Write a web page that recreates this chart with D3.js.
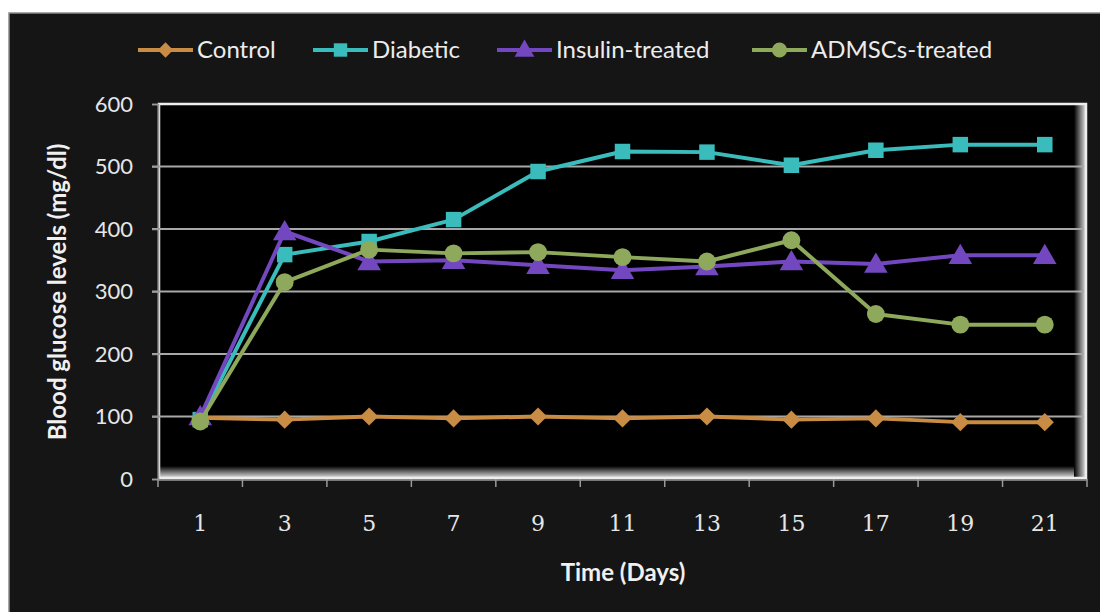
<!DOCTYPE html>
<html>
<head>
<meta charset="utf-8">
<script src="https://cdn.jsdelivr.net/npm/d3@7"></script>
<style>
  html, body { margin: 0; padding: 0; background: #ffffff; }
  svg { display: block; }
</style>
</head>
<body>
<svg id="chart" width="1100" height="612"></svg>
<script>
// Blood glucose over 21 days for four groups
const days = ["1", "3", "5", "7", "9", "11", "13", "15", "17", "19", "21"];
const control   = [98, 95, 100, 97, 100, 97, 100, 95, 97, 91, 91];
const diabetic  = [95, 359, 380, 415, 492, 524, 523, 502, 526, 535, 535];
const insulin   = [100, 396, 348, 350, 342, 334, 340, 348, 344, 358, 358];
const admscs    = [92, 315, 367, 361, 363, 355, 348, 382, 264, 247, 247];
const yTicks = [0, 100, 200, 300, 400, 500, 600];

const series = [
  { name: "Control",          values: control,  color: "#c98c44", shape: "diamond" },
  { name: "Diabetic",         values: diabetic, color: "#3bbcbc", shape: "square" },
  { name: "Insulin-treated",  values: insulin,  color: "#7347bf", shape: "triangle" },
  { name: "ADMSCs-treated",   values: admscs,   color: "#8ea95b", shape: "circle" }
];

const svg = d3.select("#chart");
const sans = "Lato, 'Open Sans', sans-serif";

// dark panel
svg.append("rect").attr("x", 9).attr("y", 13).attr("width", 1100).attr("height", 620)
  .attr("fill", "#151515").attr("stroke", "#8a8a8a").attr("stroke-width", 1.5);

const plot = { left: 158, right: 1087, top: 104, bottom: 479 };

const x = d3.scaleBand().domain(days).range([plot.left, plot.right]).padding(0);
const y = d3.scaleLinear().domain([0, 600]).range([plot.bottom, plot.top]);

// plot background with bevelled frame
const defs = svg.append("defs");
const gB = defs.append("linearGradient").attr("id", "bevB").attr("x1", 0).attr("y1", 0).attr("x2", 0).attr("y2", 1);
gB.append("stop").attr("offset", 0).attr("stop-color", "#000");
gB.append("stop").attr("offset", 1).attr("stop-color", "#d0d0d0");
const gR = defs.append("linearGradient").attr("id", "bevR").attr("x1", 0).attr("y1", 0).attr("x2", 1).attr("y2", 0);
gR.append("stop").attr("offset", 0).attr("stop-color", "#000");
gR.append("stop").attr("offset", 1).attr("stop-color", "#d0d0d0");

svg.append("rect").attr("x", plot.left).attr("y", plot.top)
  .attr("width", plot.right - plot.left).attr("height", plot.bottom - plot.top)
  .attr("fill", "#000");
svg.append("rect").attr("x", plot.left).attr("y", plot.bottom - 13)
  .attr("width", plot.right - plot.left).attr("height", 11).attr("fill", "url(#bevB)");
svg.append("rect").attr("x", plot.right - 13).attr("y", plot.top)
  .attr("width", 11).attr("height", plot.bottom - plot.top - 2).attr("fill", "url(#bevR)");
svg.append("rect").attr("x", plot.left + 1).attr("y", plot.top)
  .attr("width", plot.right - plot.left - 2).attr("height", plot.bottom - plot.top - 1)
  .attr("fill", "none").attr("stroke", "#ededed").attr("stroke-width", 2.5);

// gridlines
svg.append("g").selectAll("line").data(yTicks.filter(d => d > 0 && d < 600)).join("line")
  .attr("x1", plot.left - 6).attr("x2", plot.right - 3)
  .attr("y1", d => y(d)).attr("y2", d => y(d))
  .attr("stroke", "#a8a8a8").attr("stroke-width", 2);

// y axis
const yAxis = svg.append("g").attr("transform", `translate(${plot.left},0)`)
  .call(d3.axisLeft(y).tickValues(yTicks).tickSize(6).tickPadding(19));
yAxis.select(".domain").attr("stroke", "#9a9a9a").attr("stroke-width", 1.5);
yAxis.selectAll(".tick line").attr("stroke", "#9a9a9a").attr("stroke-width", 1.5);
yAxis.selectAll(".tick text").attr("fill", "#e6e6e6")
  .style("font-family", sans).style("font-size", "22px");

// x axis: ticks at category boundaries, labels at centres
const boundaries = days.map(d => x(d)).concat([plot.right]);
svg.append("g").selectAll("line").data(boundaries).join("line")
  .attr("x1", d => d).attr("x2", d => d).attr("y1", plot.bottom).attr("y2", plot.bottom + 8)
  .attr("stroke", "#9a9a9a").attr("stroke-width", 1.5);
svg.append("line").attr("x1", plot.left).attr("x2", plot.right)
  .attr("y1", plot.bottom + 1).attr("y2", plot.bottom + 1).attr("stroke", "#9a9a9a").attr("stroke-width", 1.5);
svg.append("g").selectAll("text").data(days).join("text")
  .attr("x", d => x(d) + x.bandwidth() / 2).attr("y", 531)
  .attr("text-anchor", "middle").attr("fill", "#e6e6e6")
  .style("font-family", "'DejaVu Serif', 'Liberation Serif', serif").style("font-size", "22px")
  .text(d => d);

// axis titles
svg.append("text").attr("x", 623).attr("y", 581).attr("text-anchor", "middle")
  .attr("fill", "#f0f0f0").style("font-family", sans).style("font-weight", "bold").style("font-size", "24px")
  .text("Time (Days)");
svg.append("text").attr("transform", "translate(66,292) rotate(-90)").attr("text-anchor", "middle")
  .attr("fill", "#f0f0f0").style("font-family", sans).style("font-weight", "bold").style("font-size", "24px")
  .text("Blood glucose levels (mg/dl)");

// marker shapes
const symbolFor = {
  diamond: d3.symbol().type(d3.symbolDiamond2).size(210),
  square: d3.symbol().type(d3.symbolSquare).size(240),
  triangle: d3.symbol().type(d3.symbolTriangle).size(240),
  circle: d3.symbol().type(d3.symbolCircle).size(250)
};
const legendSym = {
  diamond: d3.symbol().type(d3.symbolDiamond2).size(150),
  square: d3.symbol().type(d3.symbolSquare).size(180),
  triangle: d3.symbol().type(d3.symbolTriangle).size(170),
  circle: d3.symbol().type(d3.symbolCircle).size(180)
};

const line = d3.line().x((d, i) => x(days[i]) + x.bandwidth() / 2).y(d => y(d));

series.forEach(s => {
  const g = svg.append("g");
  g.append("path").datum(s.values).attr("d", line)
    .attr("fill", "none").attr("stroke", s.color).attr("stroke-width", 4).attr("stroke-linejoin", "round");
  g.selectAll("path.m").data(s.values).join("path").attr("class", "m")
    .attr("transform", (d, i) => `translate(${x(days[i]) + x.bandwidth() / 2},${y(d) + (s.shape === "triangle" ? 2 : 0)})`)
    .attr("d", symbolFor[s.shape]()).attr("fill", s.color);
});

// legend
const legendX = [138, 313, 497, 752];
series.forEach((s, i) => {
  const g = svg.append("g").attr("transform", `translate(${legendX[i]},50)`);
  g.append("line").attr("x1", 0).attr("x2", 55).attr("y1", 0).attr("y2", 0)
    .attr("stroke", s.color).attr("stroke-width", 4);
  g.append("path").attr("transform", `translate(27.5,${s.shape === "triangle" ? 1 : 0})`)
    .attr("d", legendSym[s.shape]()).attr("fill", s.color);
  g.append("text").attr("x", 59).attr("y", 8).attr("fill", "#ececec")
    .style("font-family", sans).style("font-size", "24px").text(s.name);
});
</script>
</body>
</html>
